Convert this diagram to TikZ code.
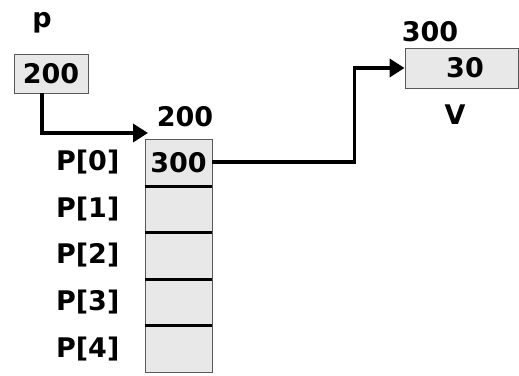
\documentclass[tikz,border=0pt]{standalone}
\usepackage{fontspec}
\setmainfont{DejaVu Sans}
\usetikzlibrary{positioning,arrows.meta}

\begin{document}
\begin{tikzpicture}[x=1pt,y=1pt,
		lbl/.style={font=\fontsize{27}{27}\selectfont\bfseries, inner sep=0pt},
		cell/.style={rectangle, draw=gray!70!black, line width=0.9pt, fill=gray!18, minimum width=67pt, minimum height=46.6pt, inner sep=0pt, font=\fontsize{27}{27}\selectfont\bfseries},
		arr/.style={line width=3.6pt, -{Triangle[length=15pt,width=18pt]}},
		sep/.style={line width=3pt}
		]
		\useasboundingbox (0,0) rectangle (519,375);
		
		% pointer p
		\node[lbl] (plbl) at (42,352) {p};
		\node[cell, minimum width=74pt, minimum height=39pt] (pbox) at (51,301.5) {200};
		
		% array P
		\node[lbl] (paddr) at (185,258) {200};
		\foreach \i/\y in {0/212.7,1/166.1,2/119.5,3/72.9,4/26.3} {
			\node[cell] (cell\i) at (178.5,\y) {};
			\node[lbl, left=25pt of cell\i] (plab\i) {P[\i]};
		}
		\node[lbl] (pval) at (cell0) {300};
		\foreach \i in {0,...,3}
			\draw[sep] (cell\i.south west) -- (cell\i.south east);
		
		% variable V
		\node[cell, minimum width=113pt, minimum height=40pt] (vbox) at (461.5,307) {\hspace*{7pt}30};
		\node[lbl] (vaddr) at (430,343) {300};
		\node[lbl] (vlbl) at (455,260) {V};
		
		\coordinate (ptip) at (148,242);
		\draw[arr] ([xshift=-9pt]pbox.south) |- (ptip);
		\draw[arr] (cell0.east) -- ++(142pt,0) |- (vbox.west);
	\end{tikzpicture}
\end{document}
